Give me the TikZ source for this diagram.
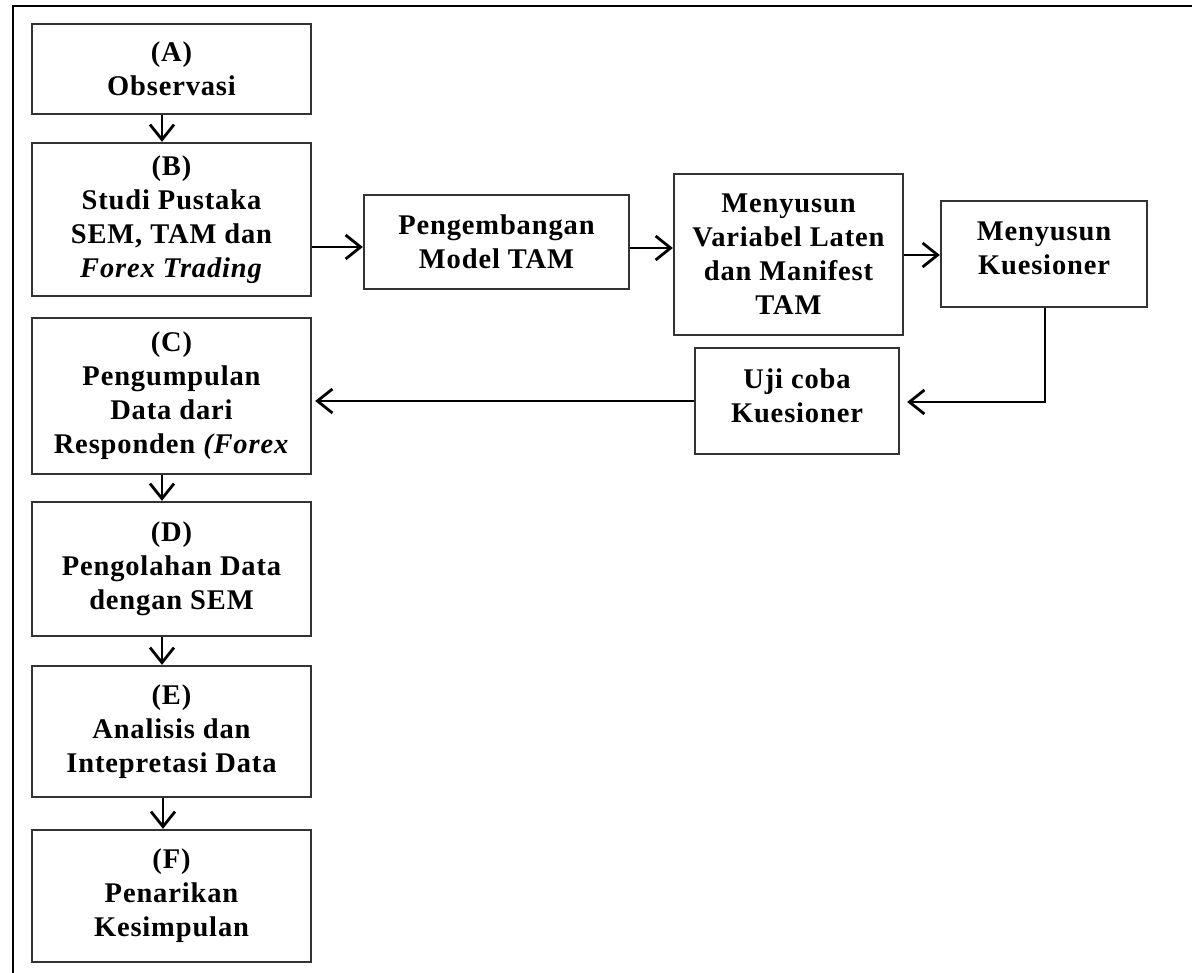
\documentclass[tikz,border=0pt]{standalone}
\usepackage{fontspec}
\setmainfont{Liberation Serif}[LetterSpace=3]
\usetikzlibrary{arrows.meta}
\begin{document}
\begin{tikzpicture}[x=1pt,y=-1pt,
  stepbox/.style={draw=black!80, line width=2.3pt, inner sep=0pt, fill=white},
  lbl/.style={font=\bfseries\fontsize{28.5}{34}\selectfont, align=center, text=black, inner sep=0pt},
  arr/.style={draw=black, line width=2.8pt,
    -{Straight Barb[length=15pt,width=24pt,line width=2.8pt]}}
]
\useasboundingbox (0,0) rectangle (1192,973);

% outer frame (top and left edges)
\draw[line width=2.2pt] (13,973) -- (13,6) -- (1192,6);

% left column of steps
\node[stepbox, minimum width=279pt, minimum height=90pt]  (A) at (171.5,69)    {};
\node[stepbox, minimum width=279pt, minimum height=153pt] (B) at (171.5,219.5) {};
\node[stepbox, minimum width=279pt, minimum height=156pt] (C) at (171.5,396)   {};
\node[stepbox, minimum width=279pt, minimum height=134pt] (D) at (171.5,569)   {};
\node[stepbox, minimum width=279pt, minimum height=131pt] (E) at (171.5,731.5) {};
\node[stepbox, minimum width=279pt, minimum height=132pt] (F) at (171.5,896)   {};

% side branch
\node[stepbox, minimum width=265pt, minimum height=94pt]  (P) at (496.5,242)   {};
\node[stepbox, minimum width=229pt, minimum height=161pt] (V) at (788.5,254.5) {};
\node[stepbox, minimum width=206pt, minimum height=106pt] (K) at (1044,254)    {};
\node[stepbox, minimum width=204pt, minimum height=106pt] (U) at (797,401)     {};

% labels
\node[lbl] (tA) at (A.center) {(A)\\Observasi};
\node[lbl] (tB) at (B.center) {(B)\\Studi Pustaka\\SEM, TAM dan\\\textit{Forex Trading}};
\node[lbl] (tC) at (C.center) {(C)\\Pengumpulan\\Data dari\\Responden \textit{(Forex}};
\node[lbl] (tD) at (D.center) {(D)\\Pengolahan Data\\dengan SEM};
\node[lbl] (tE) at (E.center) {(E)\\Analisis dan\\Intepretasi Data};
\node[lbl] (tF) at (F.center) {(F)\\Penarikan\\Kesimpulan};
\node[lbl] (tP) at (P.center) {Pengembangan\\Model TAM};
\node[lbl] (tV) at (V.center) {Menyusun\\Variabel Laten\\dan Manifest\\TAM};
\node[lbl, yshift=6pt] (tK) at (K.center) {Menyusun\\Kuesioner};
\node[lbl, yshift=5pt] (tU) at (U.center) {Uji coba\\Kuesioner};

% connectors
\draw[arr] (A.south -| 162,0) -- (B.north -| 162,0);
\draw[arr] (C.south -| 162,0) -- (D.north -| 162,0);
\draw[arr] (D.south -| 162,0) -- (E.north -| 162,0);
\draw[arr] (E.south -| 163,0) -- (F.north -| 163,0);
\draw[arr] (B.east |- 0,247) -- (P.west |- 0,247);
\draw[arr] (P.east |- 0,248) -- (V.west |- 0,248);
\draw[arr] (V.east |- 0,255) -- (K.west |- 0,255);
\draw[arr, shorten >=7pt] (K.south -| 1045,0) |- (U.east |- 0,402);
\draw[arr, shorten >=3pt] (U.west |- 0,401) -- (C.east |- 0,401);
\end{tikzpicture}
\end{document}
